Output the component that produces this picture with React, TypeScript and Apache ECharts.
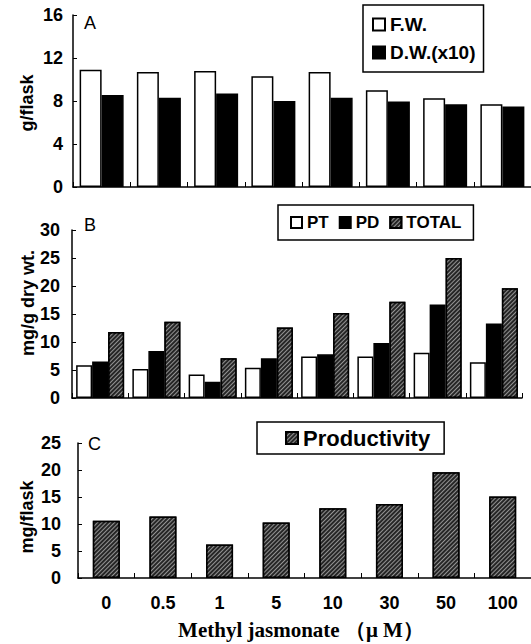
import React, { useEffect, useRef } from "react";
import * as echarts from "echarts";

const categories = ["0", "0.5", "1", "5", "10", "30", "50", "100"];
const fwValues = [10.9, 10.7, 10.8, 10.3, 10.7, 9.0, 8.25, 7.7];
const dwValues = [8.55, 8.3, 8.7, 8.0, 8.3, 7.95, 7.7, 7.5];
const ptValues = [5.85, 5.2, 4.2, 5.4, 7.4, 7.4, 8.1, 6.4];
const pdValues = [6.5, 8.4, 2.9, 7.1, 7.8, 9.8, 16.7, 13.3];
const totalValues = [11.8, 13.6, 7.1, 12.6, 15.2, 17.2, 25.0, 19.6];
const productivityValues = [10.6, 11.4, 6.2, 10.3, 12.9, 13.7, 19.6, 15.1];

const SANS = "'Liberation Sans', Arial, sans-serif";

export default function App() {
  const ref = useRef<HTMLDivElement>(null);
  useEffect(() => {
    if (!ref.current) return;
    const chart = echarts.init(ref.current, undefined, { renderer: "svg" });
    const hatch = {
      color: "rgba(255,255,255,0.5)",
      dashArrayX: [1, 0],
      dashArrayY: [1, 1.6],
      rotation: -Math.PI / 4,
      symbolSize: 1,
    };
    const axisLine = { show: true, lineStyle: { color: "#000", width: 1.5 } };
    const yLabel = (margin: number) => ({
      fontFamily: SANS,
      fontWeight: "bold" as const,
      fontSize: 18,
      color: "#000",
      margin,
    });
    const xAxisBase = (gridIndex: number, showLabel: boolean) => ({
      type: "category" as const,
      gridIndex,
      data: categories,
      axisLine,
      axisTick: { show: true, inside: true, length: 5, lineStyle: { color: "#000", width: 1 } },
      axisLabel: {
        show: showLabel,
        fontFamily: SANS,
        fontWeight: "bold" as const,
        fontSize: 18,
        color: "#000",
        margin: 16,
      },
    });
    const yAxisBase = (gridIndex: number, max: number, interval: number, margin: number) => ({
      type: "value" as const,
      gridIndex,
      min: 0,
      max,
      interval,
      axisLine,
      axisTick: { show: true, inside: true, length: 4, lineStyle: { color: "#000", width: 1 } },
      splitLine: { show: false },
      axisLabel: yLabel(margin),
    });
    const barBorder = { borderColor: "#000", borderWidth: 1.5 };
    const legendText = (size: number) => ({
      fontFamily: SANS,
      fontWeight: "bold" as const,
      fontSize: size,
      color: "#000",
    });

    chart.setOption({
      animation: false,
      backgroundColor: "#fff",
      grid: [
        { left: 73, right: -2, top: 15, height: 172 },
        { left: 72, right: 9, top: 230, height: 168 },
        { left: 78, right: 0, top: 443, height: 135 },
      ],
      xAxis: [xAxisBase(0, false), xAxisBase(1, false), xAxisBase(2, true)],
      yAxis: [
        yAxisBase(0, 16, 4, 10),
        yAxisBase(1, 30, 5, 12),
        yAxisBase(2, 25, 5, 17),
      ],
      legend: [
        {
          data: ["F.W.", "D.W.(x10)"],
          orient: "vertical",
          left: 363,
          top: 5,
          padding: [10, 8, 10, 9],
          itemGap: 9,
          itemWidth: 12,
          itemHeight: 12,
          icon: "rect",
          borderColor: "#000",
          borderWidth: 1.5,
          textStyle: legendText(19),
        },
        {
          data: ["PT", "PD", "TOTAL"],
          orient: "horizontal",
          left: 278,
          top: 205,
          padding: [9, 12, 9, 12],
          itemGap: 10,
          itemWidth: 11,
          itemHeight: 11,
          icon: "rect",
          borderColor: "#000",
          borderWidth: 1.5,
          textStyle: legendText(17),
        },
        {
          data: ["Productivity"],
          left: 257,
          top: 422,
          padding: [5, 14, 5, 28],
          itemWidth: 12,
          itemHeight: 12,
          icon: "rect",
          borderColor: "#000",
          borderWidth: 1.5,
          textStyle: legendText(22),
        },
      ],
      series: [
        {
          name: "F.W.",
          type: "bar",
          xAxisIndex: 0,
          yAxisIndex: 0,
          data: fwValues,
          barWidth: 22,
          barGap: "0%",
          itemStyle: { color: "#fff", ...barBorder },
        },
        {
          name: "D.W.(x10)",
          type: "bar",
          xAxisIndex: 0,
          yAxisIndex: 0,
          data: dwValues,
          barWidth: 22,
          barGap: "0%",
          itemStyle: { color: "#000", ...barBorder },
        },
        {
          name: "PT",
          type: "bar",
          xAxisIndex: 1,
          yAxisIndex: 1,
          data: ptValues,
          barWidth: 16,
          barGap: "0%",
          itemStyle: { color: "#fff", ...barBorder },
        },
        {
          name: "PD",
          type: "bar",
          xAxisIndex: 1,
          yAxisIndex: 1,
          data: pdValues,
          barWidth: 16,
          barGap: "0%",
          itemStyle: { color: "#000", ...barBorder },
        },
        {
          name: "TOTAL",
          type: "bar",
          xAxisIndex: 1,
          yAxisIndex: 1,
          data: totalValues,
          barWidth: 16,
          barGap: "0%",
          itemStyle: { color: "#262626", ...barBorder, decal: hatch },
        },
        {
          name: "Productivity",
          type: "bar",
          xAxisIndex: 2,
          yAxisIndex: 2,
          data: productivityValues,
          barWidth: 27,
          itemStyle: { color: "#262626", ...barBorder, decal: hatch },
        },
      ],
      graphic: [
        { type: "text", left: 84, top: 14, style: { text: "A", font: `18px ${SANS}`, fill: "#000" } },
        { type: "text", left: 84, top: 216, style: { text: "B", font: `18px ${SANS}`, fill: "#000" } },
        { type: "text", left: 88, top: 435, style: { text: "C", font: `18px ${SANS}`, fill: "#000" } },
        {
          type: "text",
          x: 27,
          y: 103,
          rotation: Math.PI / 2,
          style: { text: "g/flask", font: `bold 18px ${SANS}`, fill: "#000", align: "center", verticalAlign: "middle" },
        },
        {
          type: "text",
          x: 28,
          y: 303,
          rotation: Math.PI / 2,
          style: { text: "mg/g dry wt.", font: `bold 18px ${SANS}`, fill: "#000", align: "center", verticalAlign: "middle" },
        },
        {
          type: "text",
          x: 27,
          y: 517,
          rotation: Math.PI / 2,
          style: { text: "mg/flask", font: `bold 18px ${SANS}`, fill: "#000", align: "center", verticalAlign: "middle" },
        },
        {
          type: "text",
          x: 301,
          y: 630,
          style: {
            text: "Methyl jasmonate （μ M）",
            font: `bold 21px 'Liberation Serif', 'DejaVu Serif', serif`,
            fill: "#000",
            align: "center",
            verticalAlign: "middle",
          },
        },
      ],
    });
    return () => chart.dispose();
  }, []);
  return (
    <div
      ref={ref}
      style={{ position: "fixed", left: 0, top: 0, width: 531, height: 644, background: "#fff" }}
    />
  );
}
